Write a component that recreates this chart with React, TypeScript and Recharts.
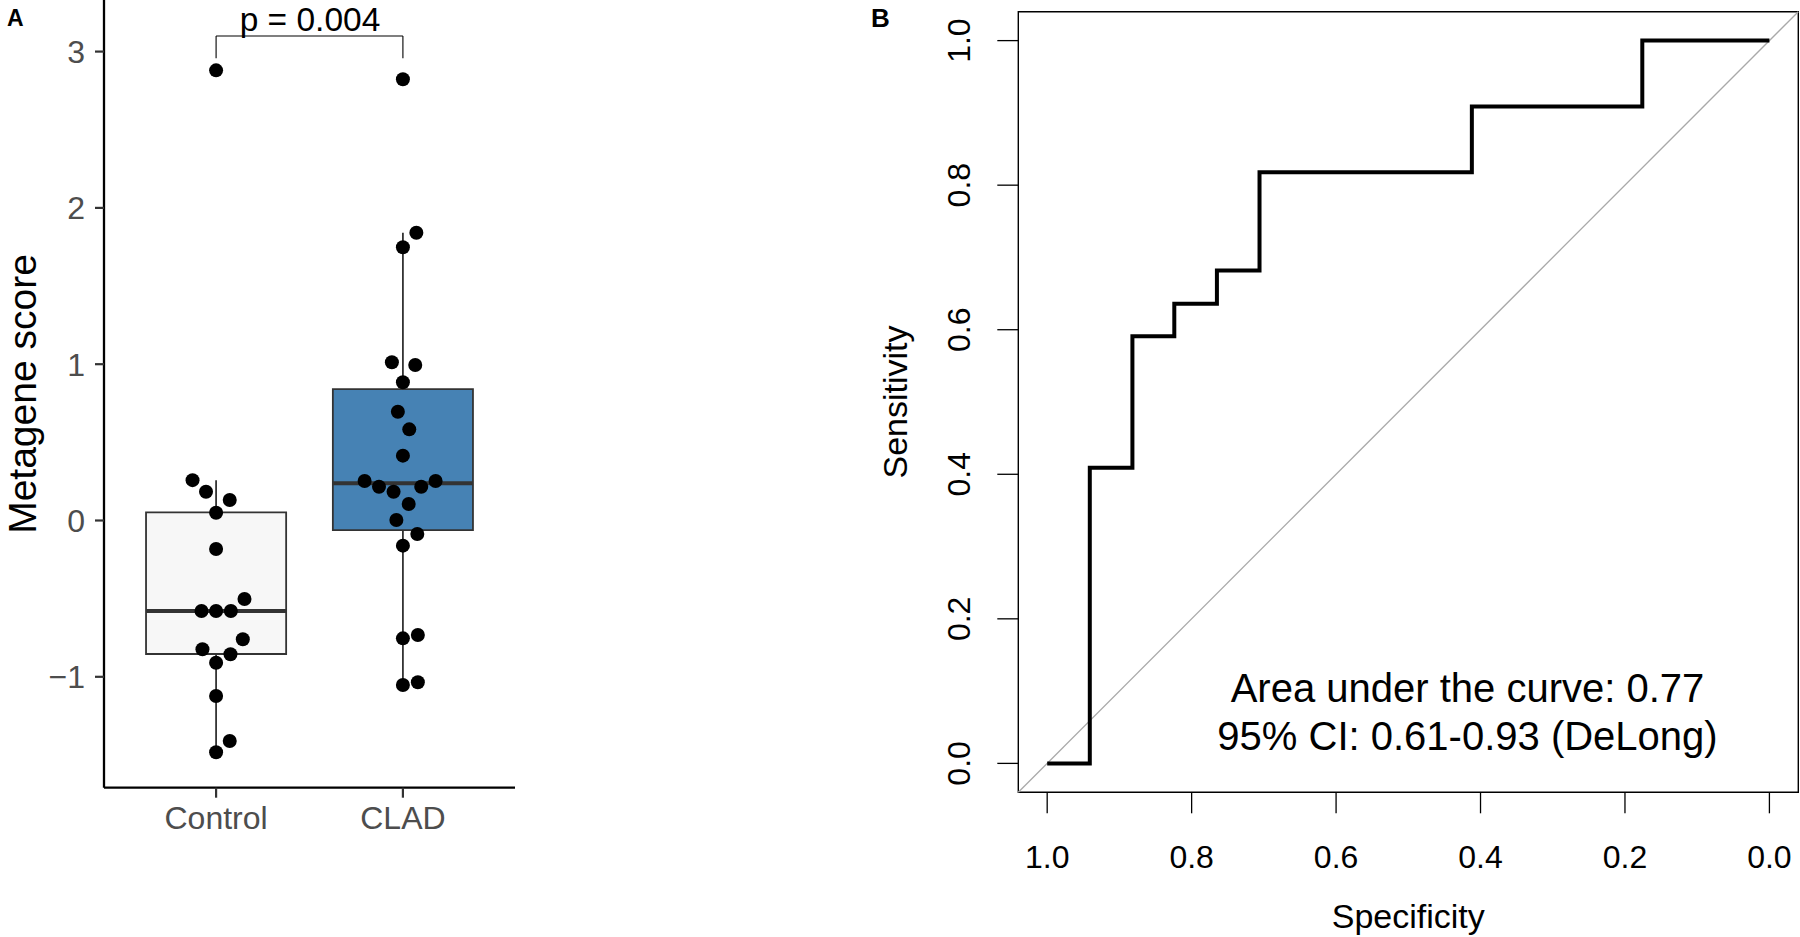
import React from 'react';
import {
  ComposedChart,
  LineChart,
  Line,
  Scatter,
  XAxis,
  YAxis,
  ReferenceArea,
  ReferenceLine,
} from 'recharts';

// ---------------- Panel A data ----------------
const groups = ['Control', 'CLAD'];
const groupPos = [1, 2];

const controlValues = [0.258, 0.184, 0.131, 0.05, -0.182, -0.502, -0.579, -0.579, -0.579, -0.76, -0.824, -0.856, -0.91, -1.123, -1.411, -1.483, 2.88];
const controlJitter = [-0.126, -0.054, 0.073, 0, 0, 0.152, -0.078, 0, 0.079, 0.143, -0.073, 0.077, 0, 0, 0.073, 0, 0];

const cladValues = [2.823, 1.841, 1.748, 1.012, 0.995, 0.884, 0.696, 0.583, 0.415, 0.253, 0.216, 0.184, 0.216, 0.253, 0.106, 0.003, -0.086, -0.161, -0.754, -0.733, -1.052, -1.035];
const cladJitter = [0, 0.072, 0, -0.059, 0.066, 0, -0.027, 0.034, 0, -0.205, -0.128, -0.05, 0.098, 0.175, 0.031, -0.035, 0.077, 0, 0, 0.08, 0, 0.08];

const boxQ1 = [-0.854, -0.061];
const boxMedian = [-0.579, 0.238];
const boxQ3 = [0.052, 0.841];
const whiskerLow = [-1.483, -1.052];
const whiskerHigh = [0.258, 1.841];
const boxFill = ['#F7F7F7', '#4682B4'];

const yTicksA = [-1, 0, 1, 2, 3];
const pBracketTop = 3.1;
const pBracketDrop = 2.957;
const pLabel = 'p = 0.004';

// ---------------- Panel B data ----------------
const specificity = [1.0, 0.941, 0.882, 0.824, 0.765, 0.706, 0.412, 0.176, 0.0];
const sensitivity = [0.0, 0.409, 0.591, 0.636, 0.682, 0.818, 0.909, 1.0, 1.0];
const rocTicks = [0, 0.2, 0.4, 0.6, 0.8, 1.0];
const aucLine1 = 'Area under the curve: 0.77';
const aucLine2 = '95% CI: 0.61-0.93 (DeLong)';

const FONT = '"Liberation Sans", Arial, Helvetica, sans-serif';

const controlPoints = controlValues.map((v, i) => ({ x: groupPos[0] + controlJitter[i], y: v }));
const cladPoints = cladValues.map((v, i) => ({ x: groupPos[1] + cladJitter[i], y: v }));
const rocData = specificity.map((s, i) => ({ spec: s, sens: sensitivity[i] }));

const BOX_HALF = 0.375;

const Dot = (props: any) => <circle cx={props.cx} cy={props.cy} r={7} fill="#000" />;

const RotatedTick = (props: any) => {
  const { x, y, payload } = props;
  return (
    <text
      x={x}
      y={y}
      transform={`rotate(-90 ${x} ${y})`}
      textAnchor="middle"
      fontSize={32}
      fill="#000"
      fontFamily={FONT}
    >
      {Number(payload.value).toFixed(1)}
    </text>
  );
};

export default function App() {
  return (
    <div
      style={{
        position: 'absolute',
        left: 0,
        top: 0,
        width: 1800,
        height: 937,
        background: '#fff',
        fontFamily: FONT,
      }}
    >
      {/* Panel A */}
      <div style={{ position: 'absolute', left: 0, top: 0 }}>
        <ComposedChart width={530} height={937} margin={{ top: 0, right: 15, bottom: 99.3, left: 0 }}>
          <XAxis
            type="number"
            dataKey="x"
            domain={[0.4, 2.6]}
            allowDataOverflow
            ticks={groupPos}
            tickFormatter={(v: number) => groups[Math.round(v) - 1]}
            height={50}
            axisLine={{ stroke: '#000', strokeWidth: 2.3 }}
            tickLine={{ stroke: '#333', strokeWidth: 2.2 }}
            tickSize={10}
            tickMargin={9}
            tick={{ fill: '#4D4D4D', fontSize: 32 }}
          />
          <YAxis
            type="number"
            dataKey="y"
            domain={[-1.7095, 3.33]}
            allowDataOverflow
            ticks={yTicksA}
            tickFormatter={(v: number) => (v < 0 ? '\u2212' + Math.abs(v) : String(v))}
            width={104}
            axisLine={{ stroke: '#000', strokeWidth: 2.3 }}
            tickLine={{ stroke: '#333', strokeWidth: 2.2 }}
            tickSize={9}
            tickMargin={10}
            tick={{ fill: '#4D4D4D', fontSize: 32 }}
          />
          {groupPos.map((g, i) => (
            <ReferenceLine
              key={'wh' + i}
              segment={[{ x: g, y: boxQ3[i] }, { x: g, y: whiskerHigh[i] }]}
              stroke="#333"
              strokeWidth={1.8}
            />
          ))}
          {groupPos.map((g, i) => (
            <ReferenceLine
              key={'wl' + i}
              segment={[{ x: g, y: whiskerLow[i] }, { x: g, y: boxQ1[i] }]}
              stroke="#333"
              strokeWidth={1.8}
            />
          ))}
          {groupPos.map((g, i) => (
            <ReferenceArea
              key={'box' + i}
              x1={g - BOX_HALF}
              x2={g + BOX_HALF}
              y1={boxQ1[i]}
              y2={boxQ3[i]}
              fill={boxFill[i]}
              fillOpacity={1}
              stroke="#333"
              strokeWidth={1.8}
            />
          ))}
          {groupPos.map((g, i) => (
            <ReferenceLine
              key={'med' + i}
              segment={[{ x: g - BOX_HALF, y: boxMedian[i] }, { x: g + BOX_HALF, y: boxMedian[i] }]}
              stroke="#333"
              strokeWidth={4}
            />
          ))}
          <ReferenceLine
            segment={[{ x: groupPos[0], y: pBracketDrop }, { x: groupPos[0], y: pBracketTop }]}
            stroke="#000"
            strokeWidth={1.1}
          />
          <ReferenceLine
            segment={[{ x: groupPos[0], y: pBracketTop }, { x: groupPos[1], y: pBracketTop }]}
            stroke="#000"
            strokeWidth={1.1}
          />
          <ReferenceLine
            segment={[{ x: groupPos[1], y: pBracketTop }, { x: groupPos[1], y: pBracketDrop }]}
            stroke="#000"
            strokeWidth={1.1}
          />
          <Scatter data={controlPoints} shape={Dot} isAnimationActive={false} />
          <Scatter data={cladPoints} shape={Dot} isAnimationActive={false} />
        </ComposedChart>
      </div>

      {/* Panel B */}
      <div style={{ position: 'absolute', left: 860, top: 0 }}>
        <LineChart width={940} height={937} data={rocData} margin={{ top: 11.7, right: 1.7, bottom: 0, left: 0 }}>
          <XAxis
            type="number"
            dataKey="spec"
            domain={[-0.04, 1.04]}
            reversed
            allowDataOverflow
            ticks={rocTicks}
            tickFormatter={(v: number) => v.toFixed(1)}
            height={144.7}
            axisLine={false}
            tickLine={{ stroke: '#000', strokeWidth: 1.3 }}
            tickSize={21}
            tickMargin={32}
            tick={{ fill: '#000', fontSize: 32 }}
          />
          <YAxis
            type="number"
            dataKey="sens"
            domain={[-0.04, 1.04]}
            allowDataOverflow
            ticks={rocTicks}
            width={158.3}
            axisLine={false}
            tickLine={{ stroke: '#000', strokeWidth: 1.3 }}
            tickSize={21}
            tickMargin={27.3}
            tick={<RotatedTick />}
          />
          <ReferenceArea
            x1={-0.04}
            x2={1.04}
            y1={-0.04}
            y2={1.04}
            fill="none"
            stroke="#000"
            strokeWidth={1.4}
          />
          <ReferenceLine
            segment={[{ x: 1.04, y: -0.04 }, { x: -0.04, y: 1.04 }]}
            stroke="#A9A9A9"
            strokeWidth={1.3}
          />
          <Line
            type="stepAfter"
            dataKey="sens"
            stroke="#000"
            strokeWidth={4}
            dot={false}
            isAnimationActive={false}
          />
        </LineChart>
      </div>

      {/* Text annotations */}
      <svg
        width={1800}
        height={937}
        style={{ position: 'absolute', left: 0, top: 0, pointerEvents: 'none' }}
      >
        <text x={7} y={26} fontSize={23} fontWeight="bold" fill="#000" fontFamily={FONT}>A</text>
        <text x={871} y={26.5} fontSize={26} fontWeight="bold" fill="#000" fontFamily={FONT}>B</text>
        <text
          x={36}
          y={394}
          transform="rotate(-90 36 394)"
          textAnchor="middle"
          fontSize={39}
          fill="#000"
          fontFamily={FONT}
        >
          Metagene score
        </text>
        <text x={310} y={30.5} textAnchor="middle" fontSize={33.5} fill="#000" fontFamily={FONT}>
          {pLabel}
        </text>
        <text
          x={906.7}
          y={402}
          transform="rotate(-90 906.7 402)"
          textAnchor="middle"
          fontSize={34}
          fill="#000"
          fontFamily={FONT}
        >
          Sensitivity
        </text>
        <text x={1408.3} y={928.3} textAnchor="middle" fontSize={34} fill="#000" fontFamily={FONT}>
          Specificity
        </text>
        <text x={1467.5} y={701.7} textAnchor="middle" fontSize={40} fill="#000" fontFamily={FONT}>
          {aucLine1}
        </text>
        <text x={1467.5} y={750} textAnchor="middle" fontSize={40} fill="#000" fontFamily={FONT}>
          {aucLine2}
        </text>
      </svg>
    </div>
  );
}
